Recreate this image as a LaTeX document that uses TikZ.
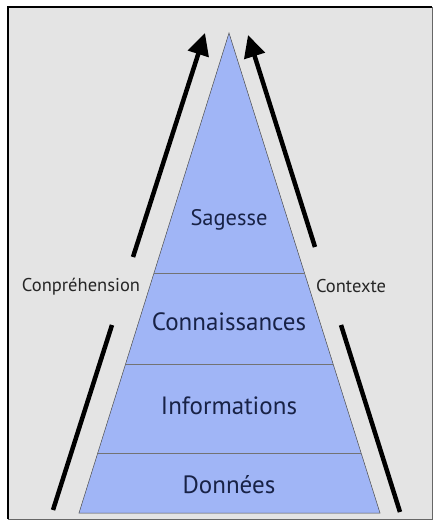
\documentclass[tikz,border=0pt]{standalone}
\usepackage{fontspec}
\setmainfont{PT Sans}
\usetikzlibrary{calc,arrows.meta}
\definecolor{fond}{RGB}{228,228,228}
\definecolor{bleu}{RGB}{160,181,246}
\definecolor{encre}{RGB}{24,34,70}
\tikzset{
  niveau/.style={text=encre,font=\fontsize{25}{30}\selectfont},
  cote/.style={text=black!85,font=\fontsize{18.5}{22}\selectfont},
  fleche/.style={line width=4.5pt,-{Triangle[length=22pt,width=21pt]}},
  trait/.style={line width=4.5pt},
}
\begin{document}
\begin{tikzpicture}[x=1pt,y=-1pt]
\useasboundingbox (0,0) rectangle (435,523);
% cadre
\fill[fond] (8,7) rectangle (432,519);
\draw[black!60,line width=1pt] (8,519) -- (432,519) -- (432,7);
\draw[black,line width=2.5pt] (8,519) -- (8,7) -- (432,7);
% pyramide
\coordinate (sommet) at (229,33);
\coordinate (bg) at (79,513);
\coordinate (bd) at (380,513);
\filldraw[fill=bleu,draw=black!70,line width=0.5pt] (sommet) -- (bg) -- (bd) -- cycle;
\foreach \t in {0.5,0.6896,0.875}
  \draw[black!55,line width=0.7pt] ($(sommet)!\t!(bg)$) -- ($(sommet)!\t!(bd)$);
\node[niveau,font=\fontsize{22.5}{27}\selectfont] (sagesse) at (229,220) {Sagesse};
\node[niveau] (connaiss) at (229,322) {Connaissances};
\node[niveau] (infos) at (229,406) {Informations};
\node[niveau] (donnees) at (229,485) {Données};
% cotes
\node[cote] (compr) at (81,287) {Conpréhension};
\node[cote] (ctx) at (351,286) {Contexte};
\coordinate (g1) at (53,510);
\coordinate (g2) at (112,325);
\coordinate (g3) at (133,257);
\coordinate (g4) at (205,33);
\coordinate (d1) at (400,512);
\coordinate (d2) at (341,325);
\coordinate (d3) at (315,247);
\coordinate (d4) at (248,35);
\draw[trait] (g1) -- (g2);
\draw[fleche] (g3) -- (g4);
\draw[trait] (d1) -- (d2);
\draw[fleche] (d3) -- (d4);
\end{tikzpicture}
\end{document}
